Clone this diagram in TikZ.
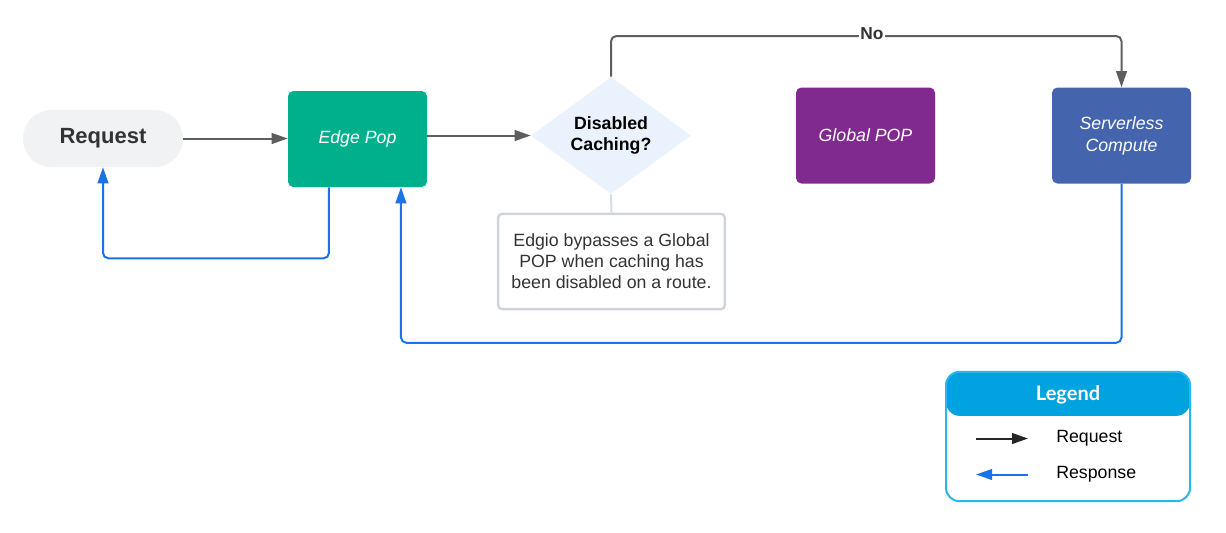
\documentclass[tikz,border=0pt]{standalone}
\usepackage{fontspec}
\setmainfont{Liberation Sans}
\newfontfamily\legendfont{Lato}
\usepackage{tikz}
\usetikzlibrary{arrows.meta,shapes.geometric}
\definecolor{reqgray}{HTML}{F1F2F4}
\definecolor{edgegreen}{HTML}{00B08C}
\definecolor{decblue}{HTML}{EAF3FD}
\definecolor{globalpurple}{HTML}{80298F}
\definecolor{serverblue}{HTML}{4465AD}
\definecolor{linegray}{HTML}{5E5E5E}
\definecolor{respblue}{HTML}{1A73E8}
\definecolor{noteborder}{HTML}{CED4DB}
\definecolor{legendhead}{HTML}{00A3E0}
\definecolor{legendborder}{HTML}{2BB5EE}
\definecolor{darktext}{HTML}{333333}

\begin{document}
\begin{tikzpicture}[x=0.75pt,y=-0.75pt,
		box/.style={rounded corners=4pt, minimum width=104.25pt, minimum height=72pt, inner sep=0pt, align=center, text=white, font=\fontsize{13.3pt}{16.5pt}\selectfont\itshape},
		req/.style={draw=linegray, line width=1.5pt, -{Triangle[length=12pt,width=8pt]}},
		resp/.style={draw=respblue, line width=1.5pt, rounded corners=4pt, -{Triangle[length=12pt,width=8pt]}},
		txt/.style={font=\fontsize{13.3pt}{15.75pt}\selectfont}]
	\useasboundingbox (0,0) rectangle (1226,532);

	% nodes
	\node (request) [fill=reqgray, rounded corners=21pt, minimum width=120pt, minimum height=42.75pt, text=darktext, font=\fontsize{16.5pt}{20pt}\selectfont\bfseries] at (103,138.5) {Request};
	\node (edge) [box, fill=edgegreen] at (357.5,139) {Edge Pop};
	\node (dec) [diamond, fill=decblue, aspect=1.37, inner sep=0pt, minimum width=120pt, minimum height=87.75pt, align=center, font=\fontsize{13.3pt}{15.75pt}\selectfont\bfseries] at (611,135.5) {Disabled\\Caching?};
	\node (global) [box, fill=globalpurple] at (865.5,135.5) {Global POP};
	\node (sc) [box, fill=serverblue] at (1121.5,135.5) {Serverless\\Compute};
	\node (note) [draw=noteborder, line width=1.8pt, rounded corners=3pt, minimum width=170pt, minimum height=71.5pt, inner sep=0pt, align=center, text=darktext, txt] at (611.5,261.5) {Edgio bypasses a Global\\POP when caching has\\been disabled on a route.};

	% request path
	\coordinate (noline) at (0,36);
	\draw[req] (request) -- (edge.west |- request);
	\draw[req] (edge.east |- dec) -- (dec.west);
	\draw[req, rounded corners=4pt] (dec.north) -- (dec.north |- noline) -| (sc.north);
	\node (no) [fill=white, inner sep=1pt, font=\fontsize{13pt}{15pt}\selectfont\bfseries, text=darktext] at (872,33.5) {No};
	\draw[noteborder!80, line width=1.5pt] (dec.south) -- (note.north);

	% response path
	\draw[resp] ([xshift=-21.4pt]edge.south) -- ++(0,71) -| (request.south);
	\draw[resp] (sc.south) -- ++(0,159) -| ([xshift=32.6pt]edge.south);

	% legend
	\node (legend) [draw=legendborder, line width=1.5pt, rounded corners=10pt, minimum width=183pt, minimum height=97pt, inner sep=0pt,
		path picture={\fill[legendhead] (path picture bounding box.north west) rectangle ([yshift=-33pt]path picture bounding box.north east);}] at (1068,436.5) {};
	\node (legendtitle) [text=white, font=\fontsize{15pt}{17pt}\selectfont\legendfont\bfseries] at (1068,394.5) {Legend};
	\coordinate (reqA) at (976,438.5);
	\coordinate (reqB) at (1028,438.5);
	\coordinate (respA) at (1028,474.5);
	\coordinate (respB) at (976,474.5);
	\draw[req, draw=black!85] (reqA) -- (reqB);
	\draw[resp] (respA) -- (respB);
	\node (reqlabel) [anchor=west, inner sep=0pt, txt] at (1056,438.5) {Request};
	\node (resplabel) [anchor=west, inner sep=0pt, txt] at (1056,474.5) {Response};
\end{tikzpicture}
\end{document}
